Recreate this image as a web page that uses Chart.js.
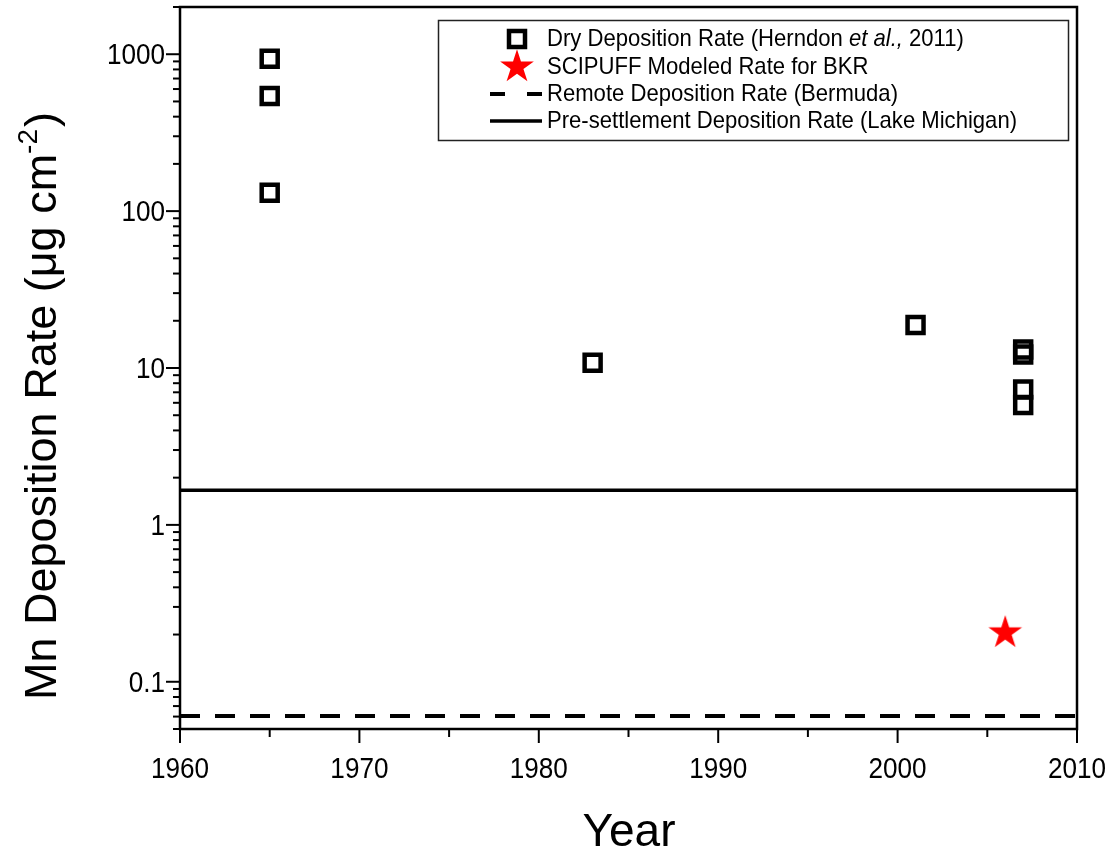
<!DOCTYPE html>
<html>
<head>
<meta charset="utf-8">
<script src="https://cdn.jsdelivr.net/npm/chart.js@4.4.0/dist/chart.umd.min.js"></script>
<style>
  html, body { margin: 0; padding: 0; background: #fff; }
  #wrap { width: 1117px; height: 849px; }
</style>
</head>
<body>
<div id="wrap"><canvas id="chart" width="1117" height="849"></canvas></div>
<script>
/* DATOS */
const dryYears = [1965, 1965, 1965, 1983, 2001, 2007, 2007, 2007, 2007];
const dryRates = [937, 542, 131, 10.8, 18.8, 13.1, 12.2, 7.3, 5.8];
const scipuffYears = [2006];
const scipuffRates = [0.205];
const lineYears = [1960, 2010];
const bermudaRate = 0.0604;
const lakeMichiganRate = 1.66;
const xTicks = [1960, 1970, 1980, 1990, 2000, 2010];
const yTicks = [0.1, 1, 10, 100, 1000];

const FONT = '"Liberation Sans", Arial, sans-serif';

/* ESTRELLA ROJA (marcador) */
function makeStar(R, color) {
  const c = document.createElement('canvas');
  const s = Math.ceil(R * 2 + 2);
  c.width = s; c.height = s;
  const g = c.getContext('2d');
  g.translate(s / 2, s / 2);
  g.beginPath();
  for (let i = 0; i < 10; i++) {
    const r = i % 2 === 0 ? R : R * 0.382;
    const ang = -Math.PI / 2 + i * Math.PI / 5;
    g.lineTo(r * Math.cos(ang), r * Math.sin(ang));
  }
  g.closePath();
  g.fillStyle = color;
  g.fill();
  return c;
}
const star = makeStar(17.7, '#ff0000');

/* texto comprimido en horizontal (como la fuente del original) */
function narrowText(ctx, text, x, y, sx) {
  ctx.save();
  ctx.translate(x, y);
  ctx.scale(sx, 1);
  ctx.fillText(text, 0, 0);
  ctx.restore();
}

/* DIBUJO: marco, ticks, etiquetas, títulos y leyenda */
const decoPlugin = {
  id: 'deco',
  afterDraw(chart) {
    const { ctx, chartArea: a, scales: { x, y } } = chart;
    const line = (x1, y1, x2, y2) => { ctx.beginPath(); ctx.moveTo(x1, y1); ctx.lineTo(x2, y2); ctx.stroke(); };
    ctx.save();
    ctx.strokeStyle = '#000';
    ctx.fillStyle = '#000';

    /* ticks eje Y (log, mayores y menores) */
    ctx.lineWidth = 2;
    for (let e = -2; e <= 3; e++) {
      for (let m = 1; m <= 9; m++) {
        const v = m * Math.pow(10, e);
        if (v < y.min * 0.999 || v > y.max * 1.001) continue;
        const py = y.getPixelForValue(v);
        line(a.left - (m === 1 ? 14 : 7), py, a.left, py);
      }
    }
    /* ticks eje X */
    for (let v = 1960; v <= 2010; v += 5) {
      const px = x.getPixelForValue(v);
      line(px, a.bottom, px, a.bottom + (v % 10 === 0 ? 14 : 8));
    }

    /* marco */
    ctx.lineWidth = 2.5;
    ctx.strokeRect(a.left, a.top, a.right - a.left, a.bottom - a.top);

    /* etiquetas de ticks */
    ctx.font = '29px ' + FONT;
    ctx.textBaseline = 'middle';
    ctx.textAlign = 'right';
    yTicks.forEach(v => narrowText(ctx, String(v), a.left - 15, y.getPixelForValue(v) + 2, 0.9));
    ctx.textAlign = 'center';
    xTicks.forEach(v => narrowText(ctx, String(v), x.getPixelForValue(v), a.bottom + 41, 0.9));

    /* título eje X */
    ctx.font = '46px ' + FONT;
    ctx.textAlign = 'center';
    ctx.textBaseline = 'alphabetic';
    ctx.fillText('Year', 629, 846);

    /* título eje Y con superíndice */
    ctx.save();
    ctx.translate(56, 407);
    ctx.rotate(-Math.PI / 2);
    ctx.textAlign = 'left';
    const t1 = 'Mn Deposition Rate (\u03BCg cm';
    const t2 = '-2';
    const t3 = ')';
    ctx.font = '45px ' + FONT;
    const w1 = ctx.measureText(t1).width;
    const w3 = ctx.measureText(t3).width;
    ctx.font = '28px ' + FONT;
    const w2 = ctx.measureText(t2).width;
    const sx = -(w1 + w2 + w3) / 2;
    ctx.font = '45px ' + FONT;
    ctx.fillText(t1, sx, 0);
    ctx.font = '28px ' + FONT;
    ctx.fillText(t2, sx + w1, -19);
    ctx.font = '45px ' + FONT;
    ctx.fillText(t3, sx + w1 + w2 + 2, 0);
    ctx.restore();

    /* leyenda */
    ctx.lineWidth = 1.5;
    ctx.strokeStyle = '#222';
    ctx.strokeRect(438.5, 20.5, 630, 120);
    ctx.strokeStyle = '#000';
    const rows = [39, 67, 94, 121];
    const symX = 517;
    const txtX = 547;
    ctx.lineWidth = 4.5;
    ctx.strokeRect(symX - 8, rows[0] - 8, 16, 16);
    ctx.drawImage(star, symX - star.width / 2, rows[1] - star.height / 2);
    ctx.lineWidth = 4;
    line(490, rows[2], 505, rows[2]);
    line(527, rows[2], 542, rows[2]);
    ctx.lineWidth = 3.5;
    line(490, rows[3], 542, rows[3]);

    ctx.textAlign = 'left';
    ctx.textBaseline = 'middle';
    const k = 0.92;
    const normal = '24px ' + FONT;
    const italic = 'italic 24px ' + FONT;
    let tx = txtX;
    ctx.font = normal;
    narrowText(ctx, 'Dry Deposition Rate (Herndon ', tx, rows[0], k);
    tx += ctx.measureText('Dry Deposition Rate (Herndon ').width * k;
    ctx.font = italic;
    narrowText(ctx, 'et al.,', tx, rows[0], k);
    tx += ctx.measureText('et al.,').width * k;
    ctx.font = normal;
    narrowText(ctx, ' 2011)', tx, rows[0], k);
    narrowText(ctx, 'SCIPUFF Modeled Rate for BKR', txtX, rows[1], k);
    narrowText(ctx, 'Remote Deposition Rate (Bermuda)', txtX, rows[2], k);
    narrowText(ctx, 'Pre-settlement Deposition Rate (Lake Michigan)', txtX, rows[3], k);
    ctx.restore();
  }
};

new Chart(document.getElementById('chart'), {
  type: 'scatter',
  data: {
    datasets: [
      {
        label: 'Dry Deposition Rate (Herndon et al., 2011)',
        data: dryYears.map((yr, i) => ({ x: yr, y: dryRates[i] })),
        pointStyle: 'rect',
        pointRadius: 11.3,
        pointBorderWidth: 4.5,
        pointBackgroundColor: 'rgba(0,0,0,0)',
        pointBorderColor: '#000',
      },
      {
        label: 'SCIPUFF Modeled Rate for BKR',
        data: scipuffYears.map((yr, i) => ({ x: yr, y: scipuffRates[i] })),
        pointStyle: star,
      },
      {
        type: 'line',
        label: 'Remote Deposition Rate (Bermuda)',
        data: lineYears.map(yr => ({ x: yr, y: bermudaRate })),
        borderColor: '#000',
        borderWidth: 4,
        borderDash: [20, 15],
        pointRadius: 0,
      },
      {
        type: 'line',
        label: 'Pre-settlement Deposition Rate (Lake Michigan)',
        data: lineYears.map(yr => ({ x: yr, y: lakeMichiganRate })),
        borderColor: '#000',
        borderWidth: 3.5,
        pointRadius: 0,
      },
    ],
  },
  options: {
    responsive: false,
    animation: false,
    devicePixelRatio: 1,
    layout: { autoPadding: false, padding: { top: 7, right: 40, left: 0, bottom: 0 } },
    plugins: {
      legend: { display: false },
      tooltip: { enabled: false },
    },
    scales: {
      x: {
        type: 'linear',
        min: 1960,
        max: 2010,
        afterBuildTicks: s => { s.ticks = xTicks.map(v => ({ value: v })); },
        afterFit: s => { s.height = 120; },
        grid: { display: false },
        border: { display: false },
        ticks: { display: false },
      },
      y: {
        type: 'logarithmic',
        min: 0.05,
        max: 2000,
        afterBuildTicks: s => { s.ticks = yTicks.map(v => ({ value: v })); },
        afterFit: s => { s.width = 180; },
        grid: { display: false },
        border: { display: false },
        ticks: { display: false },
      },
    },
  },
  plugins: [decoPlugin],
});
</script>
</body>
</html>
